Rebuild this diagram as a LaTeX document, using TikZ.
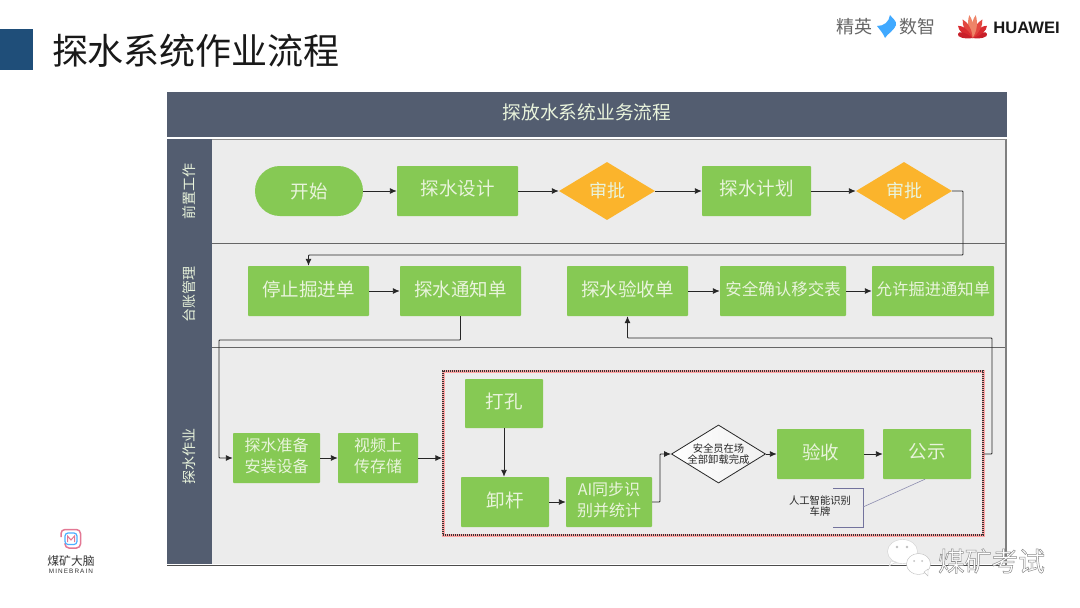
\documentclass[tikz,border=0pt]{standalone}
\usepackage{fontspec}
\usetikzlibrary{arrows.meta,shapes.geometric,calc}
\setmainfont{Noto Sans CJK SC}
\newfontfamily\latinsans{Liberation Sans}
\definecolor{slate}{HTML}{535D70}
\definecolor{lanebg}{HTML}{ECECEC}
\definecolor{leaf}{HTML}{86C954}
\definecolor{leaftext}{HTML}{E9F4DC}
\definecolor{titleblue}{HTML}{1F4E79}
\definecolor{gatefill}{HTML}{FBB42C}
\tikzset{
  x=1pt,y=-1pt,
  fs/.style={font=\fontsize{#1}{#1}\selectfont},
  stepbox/.style={draw=none,fill=leaf,text=leaftext,align=center,inner sep=0pt,fs=18.5,rounded corners=0.8pt},
  gate/.style={diamond,aspect=1.65,fill=gatefill,draw=none,text=leaftext,inner sep=0pt,fs=18},
  flow/.style={draw=black!85,line width=0.9pt,-{Latex[length=7pt,width=6pt]},rounded corners=0.8pt},
  lanelabel/.style={rotate=90,text=leaftext,fs=14},
  divider/.style={draw=black!60,line width=0.7pt}
}
\newcommand{\boxat}[7][stepbox]{\node[#1,minimum width=#4-#3,minimum height=#6-#5] (#2) at ({(#3+#4)/2},{(#5+#6)/2}) {\raisebox{1.5pt}{\begin{tabular}{@{}c@{}}#7\end{tabular}}};}
\begin{document}
\begin{tikzpicture}
\useasboundingbox (0,0) rectangle (1080,608);
\fill[white] (0,0) rectangle (1080,608);
% title
\fill[titleblue] (0,29) rectangle (33,70);
\node[fs=36,anchor=center,text=black!90] (title) at (196,51) {探水系统作业流程};
% logos
\node[fs=18,text=black!60] (jy) at (854,27) {精英};
\node[fs=18,text=black!60] (sz) at (917.5,27) {数智};
\fill[blue!45!cyan!75!white] (877,26) .. controls (884,26) and (889,22) .. (890,15) .. controls (892,18) and (897,21) .. (896,25) .. controls (893,32) and (888,33) .. (885,38) .. controls (883,33) and (880,30) .. (877,26) -- cycle;
\foreach \a/\l/\c in {-74/15/C8202A,-50/19/D92B30,-28/21/E2463F,-8/23/EE8468,8/23/EE8468,28/21/E2463F,50/19/D92B30,74/15/C8202A}{
  \definecolor{pt}{HTML}{\c}
  \fill[pt,rotate around={\a:(972.5,38)}] (972.5,38) .. controls (969,31) and (969,22) .. (972.5,38-\l) .. controls (976,22) and (976,31) .. (972.5,38) -- cycle;
}
\node[font=\latinsans\bfseries\fontsize{16.6}{16.6}\selectfont,text=black!90,anchor=center] (hw) at (1026.5,28) {HUAWEI};
% header
\fill[slate] (167,92) rectangle (1007,137);
\node[fs=18.7,text=leaftext] (hdr) at (587,112) {探放水系统业务流程};
% lanes
\fill[lanebg] (212,139) rectangle (1006,564);
\fill[slate] (167,139) rectangle (212,564);
\draw[divider] (212,243) -- (1006,243);
\draw[divider] (212,347) -- (1006,347);
\draw[black!50,line width=1.5pt] (1006,139) -- (1006,565);
\draw[black!70,line width=1pt] (167,565) -- (1006,565);
\draw[black!45,line width=0.6pt] (212,139) -- (1006,139);
\node[lanelabel] (l1) at (189,191) {前置工作};
\node[lanelabel] (l2) at (189,294) {台账管理};
\node[lanelabel] (l3) at (189,456) {探水作业};
% red dashed container
\draw[red!35!white,line width=3pt] (443,371) rectangle (983,535);
\node[draw=black!80,dash pattern=on 1.3pt off 0.7pt,line width=1.4pt,fill=none,minimum width=540pt,minimum height=164pt,inner sep=0pt] (red) at (713,453) {};
% row 1
\node[stepbox,minimum width=108pt,minimum height=50pt,rounded corners=24.9pt] (start) at (309,191) {\raisebox{1.5pt}{开始}};
\boxat{d1}{397}{518}{166}{216}{探水设计}
\node[gate,minimum width=96pt,minimum height=58pt] (g1) at (607,191) {\raisebox{1.5pt}{审批}};
\boxat{p1}{702}{811}{166}{216}{探水计划}
\node[gate,minimum width=96pt,minimum height=58pt] (g2) at (904,191) {\raisebox{1.5pt}{审批}};
% row 2
\boxat{r1}{248}{369}{266}{316}{停止掘进单}
\boxat{r2}{400}{521}{266}{316}{探水通知单}
\boxat{r3}{567}{688}{266}{316}{探水验收单}
\boxat[stepbox,fs=16.5]{r4}{720}{846}{266}{316}{安全确认移交表}
\boxat[stepbox,fs=16.3]{r5}{872}{994}{266}{316}{允许掘进通知单}
% row 3
\boxat[stepbox,fs=16]{s1}{233}{320}{433}{483}{探水准备\\[3pt]安装设备}
\boxat[stepbox,fs=16]{s2}{338}{418}{433}{483}{视频上\\[3pt]传存储}
\boxat{s3}{465}{543}{379}{428}{打孔}
\boxat{s4}{461}{549}{477}{527}{卸杆}
\boxat[stepbox,fs=16]{s5}{566}{652}{477}{527}{AI同步识\\[3pt]别并统计}
\node[diamond,aspect=1.62,draw=black!85,line width=0.8pt,left color=white,right color=black!6,minimum width=88pt,minimum height=53pt,inner sep=0pt,align=center,fs=10.3,text=black!85] (s6) at (718.5,454) {安全员在场\\全部卸载完成};
\boxat{s7}{777}{864}{429}{479}{验收}
\boxat{s8}{883}{971}{429}{479}{公示}
% callout
\coordinate (nb1) at (833,488);
\coordinate (nb2) at (863,488);
\coordinate (nb3) at (863,527);
\coordinate (nb4) at (833,527);
\draw[blue!30!black!55,line width=0.6pt] (nb1) -- (nb2) -- (nb3) -- (nb4);
\node[fs=10.3,align=center,text=black!85] (note) at (820,506) {人工智能识别\\车牌};
\draw[blue!30!black!45,line width=0.6pt] (863,507) -- ($(s8.south)+(-2,0)$);
% connectors
\draw[flow] (start.east) -- (d1.west);
\draw[flow] (d1.east) -- (g1.west);
\draw[flow] (g1.east) -- (p1.west);
\draw[flow] (p1.east) -- (g2.west);
\draw[flow] (g2.east) -- (963,191) -- (963,255) -- (r1.north|-0,255) -- (r1.north);
\draw[flow] (r1.east) -- (r2.west);
\draw[flow] (r3.east) -- (r4.west);
\draw[flow] (r4.east) -- (r5.west);
\draw[flow] (r2.south) -- (r2.south|-0,340) -- (219,340) -- (219,458) -- (s1.west);
\draw[flow] (s1.east) -- (s2.west);
\draw[flow] (s2.east) -- (red.west|-s2.east);
\draw[flow] (s3.south) -- (s3.south|-s4.north);
\draw[flow] (s4.east) -- (s5.west);
\draw[flow] (s5.east) -- (660,502) -- (660,454) -- (s6.west);
\draw[flow] (s6.east) -- (s7.west);
\draw[flow] (s7.east) -- (s8.west);
\draw[flow] (red.east|-s8.east) -- (992,454) -- (992,338) -- (r3.south|-0,338) -- (r3.south);
% minebrain logo
\draw[line width=1.5pt,rounded corners=4pt,draw=purple!55!pink!80!white] (61,537) -- (61,529.5) -- (80.5,529.5) -- (80.5,548) -- (65,548) -- (65,543);
\draw[line width=1.2pt,rounded corners=3pt,draw=blue!45!cyan!70!white] (65,533) rectangle (77,544.5);
\draw[line width=1pt,draw=purple!55!pink!80!white] (67.5,542) -- (67.5,536) -- (71,540) -- (74.5,536) -- (74.5,542);
\node[fs=11.8,text=black!80] (mb1) at (71,561) {煤矿大脑};
\node[font=\latinsans\fontsize{6.4}{6.4}\selectfont,text=black!80] (mb2) at (71,571) {M\,I\,N\,E\,B\,R\,A\,I\,N};
% wechat watermark
\fill[white,draw=black!18,line width=0.4pt] (902.5,551.5) ellipse (15pt and 12pt);
\fill[white,draw=black!18,line width=0.4pt] (891,561) -- (889,566) -- (896,562) -- cycle;
\fill[white,draw=black!25,line width=0.4pt] (918.5,564) ellipse (12pt and 10.5pt);
\fill[white,draw=black!25,line width=0.4pt] (924,572) -- (928,576) -- (928,569) -- cycle;
\fill[black!25] (897,547) circle (1.3pt) (907,547) circle (1.3pt) (914,561) circle (1pt) (922,561) circle (1pt);
\node[fs=26.7,text=white] (wm) at (991.5,561) {\special{pdf:code q 2 Tr 0.5 w 0.55 G}煤矿考试\special{pdf:code Q}};
\end{tikzpicture}
\end{document}
